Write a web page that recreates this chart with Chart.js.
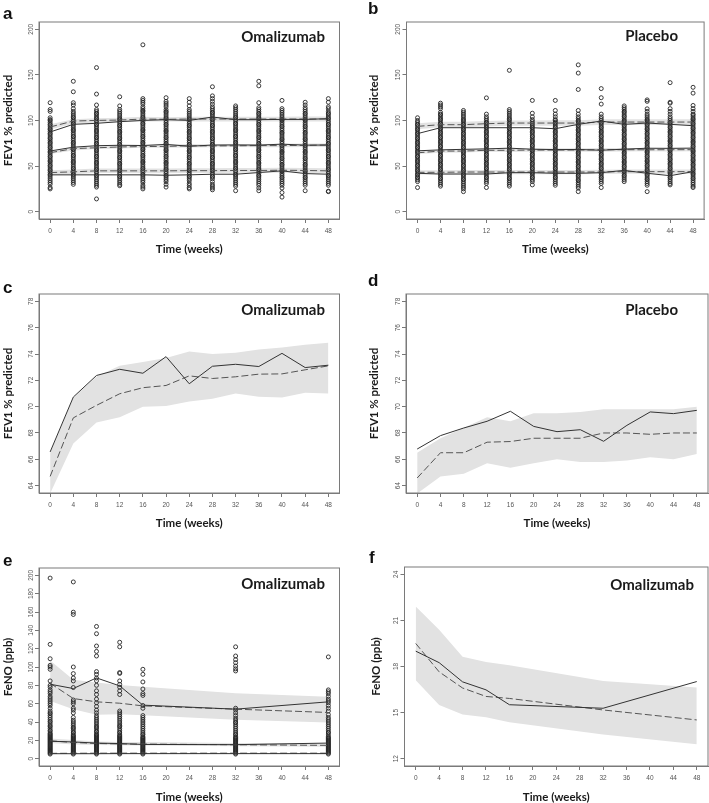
<!DOCTYPE html>
<html>
<head>
<meta charset="utf-8">
<script src="https://cdn.jsdelivr.net/npm/chart.js@4.4.1/dist/chart.umd.min.js"></script>
<style>
  html,body{margin:0;padding:0;background:#fff;}
  #wrap{position:relative;width:709px;height:803px;overflow:hidden;background:#fff;}
  canvas{position:absolute;}
  .lab{position:absolute;font-family:"Liberation Sans",Arial,sans-serif;font-weight:bold;font-size:17px;line-height:1;color:#111;white-space:nowrap;}
  .grp{position:absolute;font-family:Lato,"Open Sans",sans-serif;font-weight:bold;font-size:15px;line-height:1;color:#1a1a1a;white-space:nowrap;text-align:right;}
</style>
</head>
<body>
<div id="wrap">
  <canvas id="ca" width="355" height="262" style="left:0px;top:0px"></canvas>
  <canvas id="cb" width="354" height="262" style="left:355px;top:0px"></canvas>
  <canvas id="cc" width="355" height="270" style="left:0px;top:262px"></canvas>
  <canvas id="cd" width="354" height="270" style="left:355px;top:262px"></canvas>
  <canvas id="ce" width="355" height="273" style="left:0px;top:530px"></canvas>
  <canvas id="cf" width="354" height="273" style="left:355px;top:530px"></canvas>

  <div class="lab" style="left:3px;top:4.6px">a</div>
  <div class="lab" style="left:368px;top:-0.4px">b</div>
  <div class="lab" style="left:3px;top:278.6px">c</div>
  <div class="lab" style="left:368px;top:271.6px">d</div>
  <div class="lab" style="left:3px;top:551.6px">e</div>
  <div class="lab" style="left:369px;top:548.6px">f</div>

  <div class="grp" style="right:384px;top:29.2px">Omalizumab</div>
  <div class="grp" style="right:31px;top:28.4px">Placebo</div>
  <div class="grp" style="right:384px;top:301.7px">Omalizumab</div>
  <div class="grp" style="right:31px;top:301.7px">Placebo</div>
  <div class="grp" style="right:384px;top:575.7px">Omalizumab</div>
  <div class="grp" style="right:15px;top:576.7px">Omalizumab</div>
</div>
<script>
// ---------- categories / ticks ----------
const weeks = [0,4,8,12,16,20,24,28,32,36,40,44,48];
const fenoWeeks = [0,4,8,12,16,32,48];
const xTickValues = [0,4,8,12,16,20,24,28,32,36,40,44,48];
const fevTicks = [0,50,100,150,200];
const fevMedTicks = [64,66,68,70,72,74,76,78];
const fenoTicks = [0,20,40,60,80,100,120,140,160,180,200];
const fenoMedTicks = [12,15,18,21,24];

// ---------- panel a: observed FEV1 % predicted, Omalizumab ----------
const aObs = [
 [25,26.5,30,32,34,36,38,40,41,43,45,46,48,50,51,53,55,56,58,60,61,63,65,66,68,70,71,73,75,76,78,80,81,83,85,86,88,90,91,93,95,96,98,100,101,103,110,112,119.5],
 [30,32,34,36,38,40,41,43,45,47,48,50,52,54,55,57,59,61,62,64,66,68,69,71,73,75,76,78,80,82,83,85,87,89,90,92,94,96,97,99,101,103,104,106,108,110,113,117,119.5,131.5,143],
 [14,27,29,31,33,35,37,39,40,42,44,46,47,49,51,53,54,56,58,60,61,63,65,67,68,70,72,74,75,77,79,81,82,84,86,88,89,91,93,95,96,98,100,102,103,105,107,108,110,112,117,129,158],
 [28.5,30,32,34,36,38,39,41,43,45,46,48,50,52,53,55,57,59,60,62,64,66,67,69,71,73,74,76,78,80,81,83,85,87,88,90,92,94,95,97,99,101,102,104,106,108,110,112,116,126],
 [25,27,29,32,34,36,38,40,41,43,45,47,48,50,52,54,55,57,59,61,62,64,66,68,69,71,73,75,76,78,80,82,83,85,87,89,90,92,94,96,97,99,101,103,104,106,108,110,111,113,115,118,120,122,124,183],
 [27,30,33,35,37,39,40,42,44,46,47,49,51,53,54,56,58,60,61,63,65,67,68,70,72,74,75,77,79,81,82,84,86,88,89,91,93,95,96,98,100,102,103,105,107,109,110,112,115,117,119,121,125],
 [25,26.5,29,31,34,36,38,39,41,43,45,46,48,50,52,53,55,57,59,60,62,64,66,67,69,71,73,74,76,78,80,81,83,85,87,88,90,92,94,95,97,99,101,102,104,106,108,110,112,116,120,124],
 [24,26,28,30,33,36,38,39,41,43,45,46,48,50,52,53,55,57,59,60,62,64,66,67,69,71,73,74,76,78,80,81,83,85,87,88,90,92,94,95,97,99,101,102,104,106,108,109,111,113,115,118,121,124,127,137],
 [23,28,30,32,34,36,38,40,41,43,45,47,48,50,52,54,55,57,59,61,62,64,66,68,69,71,73,75,76,78,80,82,83,85,87,89,90,92,94,96,97,99,101,103,104,106,108,110,112,114,116],
 [23,26,29,31,33,35,37,39,40,42,44,46,47,49,51,53,54,56,58,60,61,63,65,67,68,70,72,74,75,77,79,81,82,84,86,88,89,91,93,95,96,98,100,102,103,105,107,108,110,112,114,119.5,138,143],
 [16,21,26,29,31,33,35,37,38,40,42,44,45,47,49,51,52,54,56,58,59,61,63,65,66,68,70,72,73,75,77,79,80,82,84,86,87,89,91,93,94,96,98,100,101,103,105,107,109,111,113,122],
 [23,29,31,33,35,37,38,40,42,44,45,47,49,51,52,54,56,58,59,61,63,65,66,68,70,72,73,75,77,79,80,82,84,86,87,89,91,93,94,96,98,100,101,103,105,107,108,110,112,114,117,120],
 [22,22.5,29,31,33,35,37,39,40,42,44,46,47,49,51,53,54,56,58,60,61,63,65,67,68,70,72,74,75,77,79,81,82,84,86,88,89,91,93,95,96,98,100,102,103,105,107,108,110,113,115,120,124]
];
const aP90obs  = [87.4,95.8,96.9,98.7,100.1,100.9,100.1,103.8,100.9,100.9,101.2,101.2,102];
const aP90pred = [92.9,99.4,100.1,100.5,101.6,101.3,101.6,101.6,101.6,101.6,101.6,101.6,101.6];
const aP90hi   = [96,101.5,102.5,103,104,103.5,104,104,104.2,104,104.2,104.5,104.5];
const aP90lo   = [90,96.5,97.5,98,99,99,99,99,99,99,99,98.8,98.8];
const aP10obs  = [40.4,40.4,40.4,40.4,40.4,40,40.4,41.1,41.1,42.9,44.8,41.8,41.1];
const aP10pred = [42.9,43.7,44.8,44.8,44.8,44.8,45,45,45.2,45.2,45.5,45.2,44.8];
const aP10hi   = [45.5,46.2,47.3,47.3,47.5,47.5,47.7,47.7,47.9,47.9,48.2,48,47.6];
const aP10lo   = [40.3,41.2,42.3,42.3,42.2,42.2,42.4,42.4,42.6,42.6,42.8,42.5,42.1];

// ---------- panel c: median FEV1, Omalizumab ----------
const cObs  = [66.56,70.73,72.37,72.84,72.54,73.8,71.74,73.07,73.22,73.05,74.05,72.97,73.15];
const cPred = [64.7,69.15,70.1,70.98,71.44,71.61,72.34,72.14,72.27,72.47,72.49,72.8,73.1];
const cHi   = [66.5,70.7,72.3,73.1,73.4,73.7,74.2,74.0,74.1,74.35,74.5,74.7,74.85];
const cLo   = [63.4,67.2,68.8,69.2,70.0,70.05,70.4,70.6,71.0,70.75,70.7,71.05,71.0];

// ---------- panel b: observed FEV1 % predicted, Placebo ----------
const bObs = [
 [26.5,33,35,37,38,40,41,43,45,46,48,50,51,53,55,56,58,60,61,63,65,66,68,70,71,73,75,76,78,80,81,83,85,86,88,90,91,93,95,96,98,100,103],
 [28,30,32,34,36,37,39,41,42,44,46,47,49,51,52,54,56,57,59,61,62,64,66,67,69,71,72,74,76,77,79,81,82,84,86,87,89,91,92,94,96,97,99,101,102,104,106,107,109,113,115,117,119],
 [22,25,27,29,31,33,35,36,38,40,41,43,45,46,48,50,51,53,55,56,58,60,61,63,65,66,68,70,71,73,75,76,78,80,81,83,85,86,88,90,91,93,95,96,98,100,101,103,105,107,109,111],
 [26.5,31,33,35,37,38,40,42,43,45,47,48,50,52,53,55,57,58,60,62,63,65,67,68,70,72,73,75,77,78,80,82,83,85,87,88,90,92,93,95,97,98,100,102,104,107,124.8],
 [28,30,32,34,36,37,39,41,42,44,46,47,49,51,52,54,56,57,59,61,62,64,66,67,69,71,72,74,76,77,79,81,82,84,86,87,89,91,92,94,96,97,99,101,102,104,106,108,110,112,155],
 [29.4,33,35,37,38,40,42,43,45,47,48,50,52,53,55,57,58,60,62,63,65,67,68,70,72,73,75,77,78,80,82,83,85,87,88,90,92,93,95,97,99,101,104,108,122],
 [29,31,33,35,37,38,40,42,43,45,47,48,50,52,53,55,57,58,60,62,63,65,67,68,70,72,73,75,77,78,80,82,83,85,87,88,90,92,93,95,97,98,100,101,104,107,111,122],
 [22,26,28,30,32,34,35,37,39,40,42,44,45,47,49,50,52,54,55,57,59,60,62,64,65,67,69,70,72,74,75,77,79,80,82,84,85,87,89,90,92,94,95,97,99,100,102,104,107,111,134,152,161],
 [26.5,31,33,35,37,38,40,42,43,45,47,48,50,52,53,55,57,58,60,62,63,65,67,68,70,72,73,75,77,78,80,82,83,85,87,88,90,92,93,95,97,98,100,102,104,107,118,125,135],
 [33,35,37,39,40,42,44,45,47,49,50,52,54,55,57,59,60,62,64,65,67,69,70,72,74,75,77,79,80,82,84,85,87,89,90,92,94,95,97,99,100,102,104,105,107,109,110,112,114,116],
 [22,29,31,33,35,36,38,40,41,43,45,46,48,50,51,53,55,56,58,60,61,63,65,66,68,70,71,73,75,76,78,80,81,83,85,86,88,90,91,93,95,96,98,100,101,103,105,107,110,112.8,121,122.6],
 [29.4,31,33,35,37,38,40,42,43,45,47,48,50,52,53,55,57,58,60,62,63,65,67,68,70,72,73,75,77,78,80,82,83,85,87,88,90,92,93,95,97,98,100,102,104,107,110,113,119,120,141.5],
 [26.5,28,30,32,34,36,37,39,41,42,44,46,47,49,51,52,54,56,57,59,61,62,64,66,67,69,71,72,74,76,77,79,81,82,84,86,87,89,91,92,94,96,97,99,101,102,104,106,107,110,113,116.5,130,136.4]
];
const bP90obs  = [85.6,92.1,92.1,92.1,92.1,92.1,91,95.8,99.4,95.8,97.2,95.8,94.3];
const bP90pred = [93.6,95.4,95.4,96.5,97.2,97.2,97.2,97.2,98.3,98.3,98.3,98.3,98.3];
const bP90hi   = [97,98.5,98.5,99.5,100,100,100.2,100.2,101.3,101.3,101.3,101.5,101.5];
const bP90lo   = [90.5,92.5,92.5,93.5,94.3,94.3,94.3,94.2,95.2,95.2,95.2,95,95];
const bP10obs  = [42.1,41.3,41.3,41.3,42.8,42.8,42.1,42.1,42.8,45.3,42.1,39.5,43.9];
const bP10pred = [43.2,43.2,43.5,43.5,43.5,43.5,43.5,43.5,43.6,43.9,43.9,43.9,43.9];
const bP10hi   = [45.5,45.5,45.8,45.8,45.8,45.8,45.8,45.8,45.9,46.2,46.2,46.2,46.2];
const bP10lo   = [40.9,40.9,41.2,41.2,41.2,41.2,41.2,41.2,41.3,41.6,41.6,41.6,41.6];

// ---------- panel d: median FEV1, Placebo ----------
const dObs  = [66.78,67.8,68.38,68.89,69.65,68.5,68.1,68.25,67.37,68.58,69.6,69.47,69.72];
const dPred = [64.58,66.5,66.5,67.3,67.35,67.6,67.6,67.6,68.0,68.0,67.9,68.0,68.0];
const dHi   = [66.5,67.6,68.4,69.2,68.9,69.5,69.5,69.6,69.8,69.8,69.8,69.8,70.0];
const dLo   = [63.4,64.7,64.9,65.7,65.35,65.7,66.0,65.8,65.8,65.9,66.15,66.0,66.4];

// ---------- panel e: observed FeNO, Omalizumab ----------
const eObs = [
 [5,6,7,8,9,10,11,12,13,14,15,16,17,18,19,20,21,22,23,24,25,26,27,28,30,31,33,35,36,38,40,41,43,45,47,49,50,52,55,58,60,62,64,66,68,71,73,75,78,80,84.8,97.5,100,101.8,109,124.7,197],
 [5,6,7,8,9,10,11,12,13,14,15,16,17,18,19,20,21,22,23,24,25,26,28,29,31,33,34,36,38,40,42,45,50,53,55,60,62,64,77.6,84.8,88,92.8,100,157.3,159.8,192.8],
 [5,6,7,8,9,10,11,12,13,14,15,16,17,18,19,20,21,22,23,24,25,26,27,29,30,32,34,35,37,39,41,43,45,47,50,53,57,61,65,70,74,80,85,88,92,95,112,117,122.9,136.3,144.2],
 [5,6,7,8,9,10,11,12,13,14,15,16,17,18,19,20,21,22,23,24,25,26,28,29,31,33,35,36,38,40,42,44,46,48,50,52,70,74,78,81,84.8,93,94,122,127],
 [5,6,7,8,9,10,11,12,13,14,15,16,17,18,19,20,21,22,23,24,26,27,29,31,33,35,37,39,41,43,45,47,55,58,69,71,76,83.7,92,97.5],
 [5,6,7,8,9,10,11,12,13,14,15,16,17,18,19,20,21,22,23,24,26,27,29,31,33,35,37,39,40,42,44,47,50,53,55,95.7,98,101,104.7,108,112,122],
 [5,6,7,8,9,10,11,12,13,14,15,16,17,18,19,20,21,22,23,24,26,28,29,31,33,35,37,39,41,43,45,48,52,55,58,61,63,65,68,71,73,75,111]
];
const eP90obs  = [81.2,76.5,88.1,79.4,58.4,54,62];
const eP90pred = [82.3,65.6,62,60.5,57.6,54,50.4];
const eP90hi   = [107,86,83,80.5,78.5,71.5,67.5];
const eP90lo   = [63,54,48,48.5,47.5,42.5,39.5];
const eP10obs  = [5.4,5.4,5.4,5.5,5.5,5.5,5.5];
const eP10pred = [5.8,5.9,6,6,6,6,6];

// ---------- panel f: median FeNO, Omalizumab ----------
const fObs  = [19.0,18.25,17.0,16.48,15.51,15.28,17.02];
const fPred = [19.5,17.65,16.6,16.05,15.92,15.17,14.52];
const fHi   = [21.9,20.4,18.64,18.3,18.08,17.06,16.63];
const fLo   = [17.1,15.5,14.87,14.7,14.37,13.57,12.93];

// ---------- helpers ----------
const pts = (xs, ys) => xs.map((x, i) => ({x: x, y: ys[i]}));
const cloud = (xs, cols) => xs.flatMap((x, i) => cols[i].map(v => ({x: x, y: v})));

function lineDs(xs, ys, dashed) {
  return {data: pts(xs, ys), borderColor: dashed ? '#555' : '#333', borderWidth: 1,
    borderDash: dashed ? [7, 3] : [], pointRadius: 0, fill: false, tension: 0,
    order: dashed ? 1 : 0};
}
function bandDs(xs, hi, lo) {
  return [
    {data: pts(xs, hi), borderColor: 'rgba(0,0,0,0)', borderWidth: 1, pointRadius: 0,
     fill: '+1', backgroundColor: '#e2e2e2', tension: 0, order: 3},
    {data: pts(xs, lo), borderColor: 'rgba(0,0,0,0)', borderWidth: 1, pointRadius: 0,
     fill: false, tension: 0, order: 3}
  ];
}
function cloudDs(xs, cols) {
  return {data: cloud(xs, cols), showLine: false, pointRadius: 2, pointBorderWidth: 0.9,
    pointBorderColor: '#262626', pointBackgroundColor: 'rgba(0,0,0,0)', order: 2};
}

const boxPlugin = {
  id: 'box',
  afterDatasetsDraw(chart) {
    const {ctx, chartArea: a} = chart;
    ctx.save();
    ctx.strokeStyle = '#7a7a7a';
    ctx.lineWidth = 1;
    ctx.strokeRect(a.left, a.top, a.right - a.left, a.bottom - a.top);
    ctx.restore();
  }
};

const tickFont = {family: '"Liberation Sans", Arial, sans-serif', size: 6.5};
const titleFont = {family: 'Lato, "Open Sans", sans-serif', weight: 'bold', size: 11.5, lineHeight: 1};

function makeChart(id, g, datasets, yMin, yMax, yTicks, yTitle) {
  new Chart(document.getElementById(id), {
    type: 'line',
    data: {datasets: datasets},
    options: {
      responsive: false, animation: false, events: [],
      layout: {padding: {left: 0, top: g.padTop, right: g.padRight, bottom: 0}},
      plugins: {legend: {display: false}, tooltip: {enabled: false}},
      scales: {
        x: {
          type: 'linear', min: -1.92, max: 49.92,
          afterBuildTicks: s => { s.ticks = xTickValues.map(v => ({value: v})); },
          afterFit: s => { s.height = g.xHeight; },
          grid: {display: true, drawOnChartArea: false, drawTicks: true, tickLength: 4, color: '#777'},
          border: {display: true, color: '#7a7a7a'},
          ticks: {font: tickFont, color: '#555', padding: 4.1, maxRotation: 0, minRotation: 0, autoSkip: false},
          title: {display: true, text: 'Time (weeks)', font: titleFont, color: '#1a1a1a',
                  padding: {top: 0, bottom: g.xTitlePad}}
        },
        y: {
          type: 'linear', min: yMin, max: yMax,
          afterBuildTicks: s => { s.ticks = yTicks.map(v => ({value: v})); },
          afterFit: s => { s.width = g.yWidth; },
          grid: {display: true, drawOnChartArea: false, drawTicks: true, tickLength: 4, color: '#777'},
          border: {display: true, color: '#7a7a7a'},
          ticks: {font: tickFont, color: '#555', padding: g.yTickPad, minRotation: 90, maxRotation: 90,
                  crossAlign: 'center', autoSkip: false},
          title: {display: true, text: yTitle, font: titleFont, color: '#1a1a1a',
                  padding: {top: g.yTitlePad, bottom: 0}}
        }
      }
    },
    plugins: [boxPlugin]
  });
}

// ---------- build the six panels ----------
makeChart('ca', {padTop: 22, padRight: 15.5, xHeight: 43, yWidth: 39, xTitlePad: 6.75, yTitlePad: 2.25, yTickPad: -1.4},
  [lineDs(weeks, aP90obs, false), lineDs(weeks, cObs, false), lineDs(weeks, aP10obs, false),
   lineDs(weeks, aP90pred, true), lineDs(weeks, cPred, true), lineDs(weeks, aP10pred, true),
   cloudDs(weeks, aObs),
   ...bandDs(weeks, aP90hi, aP90lo), ...bandDs(weeks, cHi, cLo), ...bandDs(weeks, aP10hi, aP10lo)],
  -8, 208, fevTicks, 'FEV1 % predicted');

makeChart('cb', {padTop: 22, padRight: 3, xHeight: 43, yWidth: 51.5, xTitlePad: 6.75, yTitlePad: 13.25, yTickPad: -1.4},
  [lineDs(weeks, bP90obs, false), lineDs(weeks, dObs, false), lineDs(weeks, bP10obs, false),
   lineDs(weeks, bP90pred, true), lineDs(weeks, dPred, true), lineDs(weeks, bP10pred, true),
   cloudDs(weeks, bObs),
   ...bandDs(weeks, bP90hi, bP90lo), ...bandDs(weeks, dHi, dLo), ...bandDs(weeks, bP10hi, bP10lo)],
  -8, 208, fevTicks, 'FEV1 % predicted');

makeChart('cc', {padTop: 32, padRight: 15.5, xHeight: 39, yWidth: 39, xTitlePad: 3.25, yTitlePad: 2.25, yTickPad: 0.4},
  [lineDs(weeks, cObs, false), lineDs(weeks, cPred, true), ...bandDs(weeks, cHi, cLo)],
  63.44, 78.56, fevMedTicks, 'FEV1 % predicted');

makeChart('cd', {padTop: 32, padRight: 1, xHeight: 39, yWidth: 51, xTitlePad: 3.25, yTitlePad: 13.25, yTickPad: 0.4},
  [lineDs(weeks, dObs, false), lineDs(weeks, dPred, true), ...bandDs(weeks, dHi, dLo)],
  63.44, 78.56, fevMedTicks, 'FEV1 % predicted');

makeChart('ce', {padTop: 38, padRight: 15.5, xHeight: 37, yWidth: 39, xTitlePad: 0.25, yTitlePad: 2.25, yTickPad: -1.4},
  [lineDs(fenoWeeks, eP90obs, false), lineDs(fenoWeeks, fObs, false), lineDs(fenoWeeks, eP10obs, false),
   lineDs(fenoWeeks, eP90pred, true), lineDs(fenoWeeks, fPred, true), lineDs(fenoWeeks, eP10pred, true),
   cloudDs(fenoWeeks, eObs),
   ...bandDs(fenoWeeks, eP90hi, eP90lo), ...bandDs(fenoWeeks, fHi, fLo)],
  -8, 208, fenoTicks, 'FeNO (ppb)');

makeChart('cf', {padTop: 37, padRight: 1, xHeight: 37, yWidth: 49.5, xTitlePad: 0.25, yTitlePad: 15.25, yTickPad: 0.4},
  [lineDs(fenoWeeks, fObs, false), lineDs(fenoWeeks, fPred, true), ...bandDs(fenoWeeks, fHi, fLo)],
  11.52, 24.48, fenoMedTicks, 'FeNO (ppb)');
</script>
</body>
</html>
